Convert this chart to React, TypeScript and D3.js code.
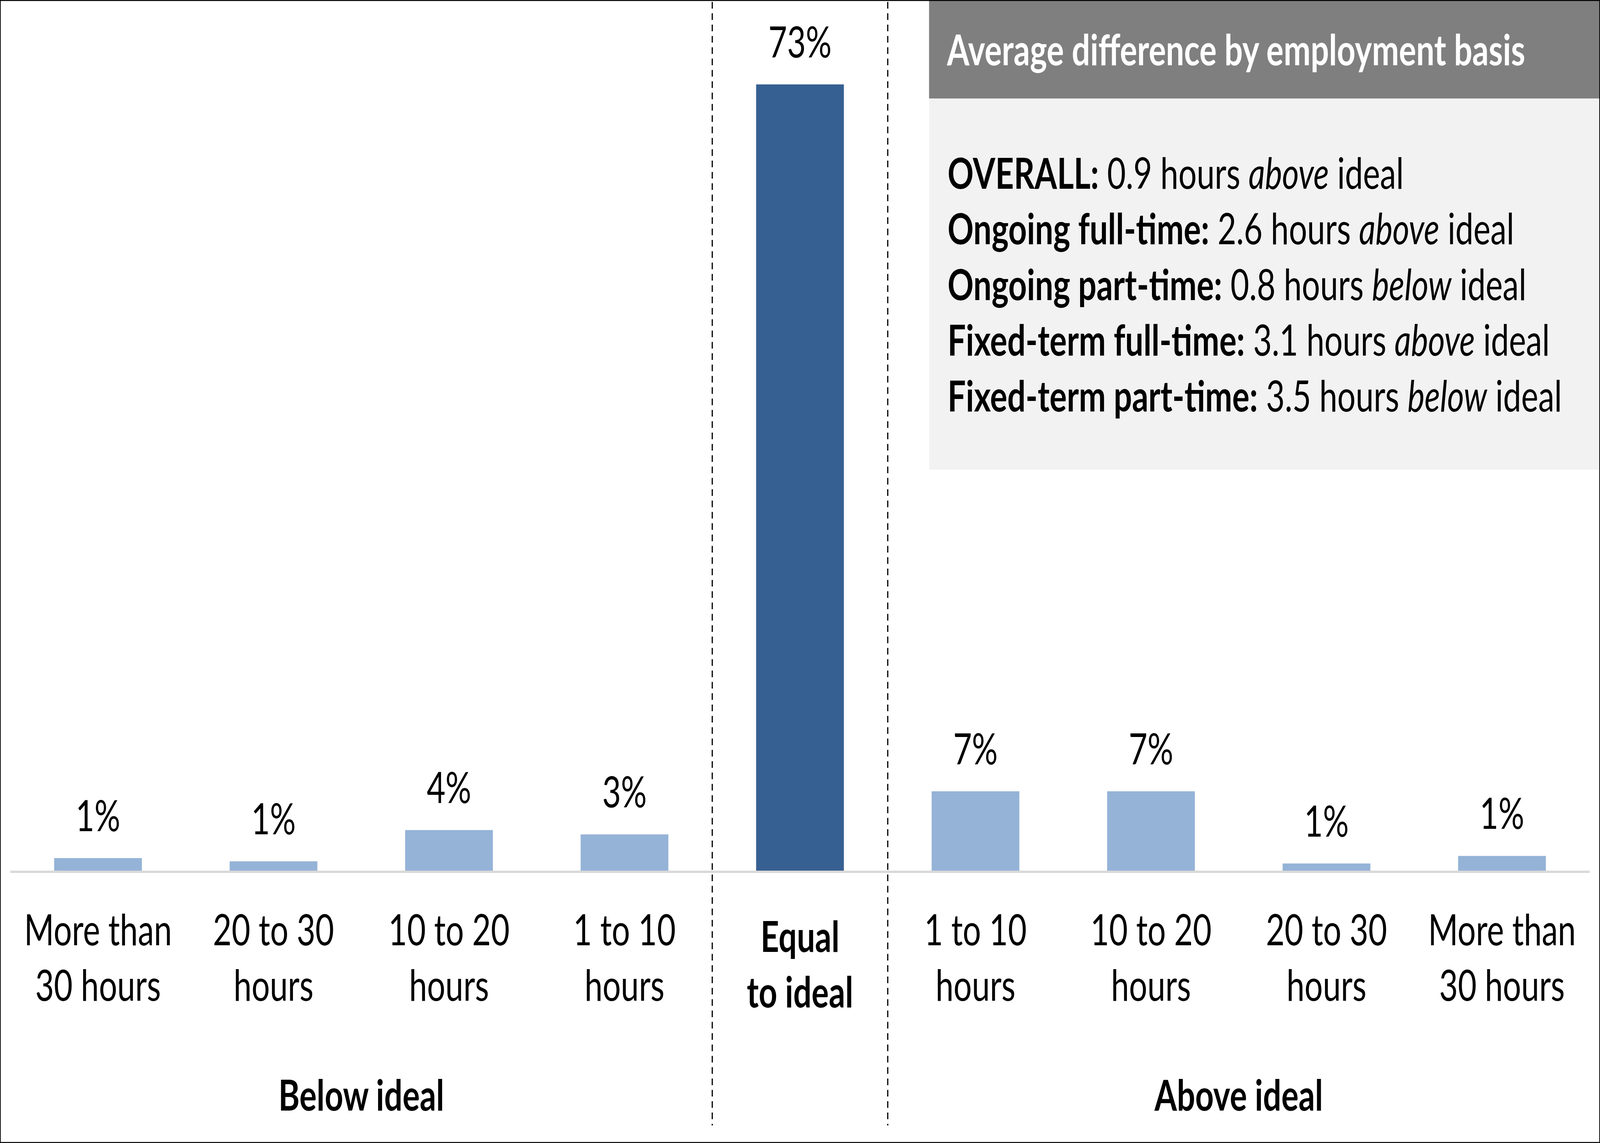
import { useEffect, useRef } from 'react'
import * as d3 from 'd3'

// categories, left to right (two text lines each)
const categoryLines: string[][] = [
  ['More than', '30 hours'],
  ['20 to 30', 'hours'],
  ['10 to 20', 'hours'],
  ['1 to 10', 'hours'],
  ['Equal', 'to ideal'],
  ['1 to 10', 'hours'],
  ['10 to 20', 'hours'],
  ['20 to 30', 'hours'],
  ['More than', '30 hours'],
]

// share of respondents (%) per category
const shares = [1.2, 0.9, 3.8, 3.4, 73, 7.4, 7.4, 0.7, 1.4]

// which bar is the "equal" one
const equalIndex = 4

const groupLabels = ['Below ideal', 'Above ideal']
const groupSpans: [number, number][] = [[0, 3], [5, 8]]

const yTicks = [0, 80]

const panelTitle = 'Average difference by employment basis'
const panelLabels = ['OVERALL:', 'Ongoing full-time:', 'Ongoing part-time:', 'Fixed-term full-time:', 'Fixed-term part-time:']
const panelHours = ['0.9', '2.6', '0.8', '3.1', '3.5']
const panelDirections = ['above', 'above', 'below', 'above', 'below']

const W = 5454
const H = 2925
const FONT = 'Lato, "Open Sans", sans-serif'
const FS = '110px'

export default function App() {
  const svgRef = useRef<SVGSVGElement>(null)

  useEffect(() => {
    if (!svgRef.current) return
    const svg = d3.select(svgRef.current)
    svg.selectAll('*').remove()

    const plot = { left: 35, right: 5419, top: 23, bottom: 2229 }

    const x = d3.scaleBand<number>()
      .domain(shares.map((_, i) => i))
      .range([plot.left, plot.right])
      .paddingInner(0.5)
      .paddingOuter(0.25)

    const y = d3.scaleLinear()
      .domain(d3.extent(yTicks) as [number, number])
      .range([plot.bottom, plot.top])

    const step = x.step()
    const bw = x.bandwidth()
    const gap = (step - bw) / 2

    svg.append('rect')
      .attr('x', 0).attr('y', 0)
      .attr('width', W).attr('height', H)
      .attr('fill', '#ffffff')

    // bars
    svg.selectAll('.bar')
      .data(shares)
      .enter().append('rect')
      .attr('class', 'bar')
      .attr('x', (_, i) => x(i)!)
      .attr('y', d => y(d))
      .attr('width', bw)
      .attr('height', d => y(0) - y(d))
      .attr('fill', (_, i) => (i === equalIndex ? '#376092' : '#95b3d7'))

    // baseline
    svg.append('line')
      .attr('x1', plot.left).attr('x2', plot.right)
      .attr('y1', y(0) + 2).attr('y2', y(0) + 2)
      .attr('stroke', '#d9d9d9')
      .attr('stroke-width', 6)

    // dashed separators around the "equal" column
    const sepX = [x(equalIndex)! - gap, x(equalIndex)! + bw + gap]
    svg.selectAll('.sep')
      .data(sepX)
      .enter().append('line')
      .attr('class', 'sep')
      .attr('x1', d => d).attr('x2', d => d)
      .attr('y1', 5).attr('y2', 2880)
      .attr('stroke', '#000')
      .attr('stroke-width', 4)
      .attr('stroke-dasharray', '17,12')

    // value labels
    svg.selectAll('.val')
      .data(shares)
      .enter().append('text')
      .attr('class', 'val')
      .attr('x', (_, i) => x(i)! + bw / 2)
      .attr('y', d => y(d) - 69)
      .attr('text-anchor', 'middle')
      .style('font-family', FONT)
      .style('font-size', FS)
      .style('fill', '#000')
      .text(d => `${Math.round(d)}%`)

    // category labels
    const cat = svg.selectAll('.cat')
      .data(categoryLines)
      .enter().append('text')
      .attr('class', 'cat')
      .attr('text-anchor', 'middle')
      .style('font-family', FONT)
      .style('font-size', FS)
      .style('font-weight', (_, i) => (i === equalIndex ? 700 : 400))
      .style('fill', '#000')

    cat.selectAll('tspan')
      .data((d, i) => d.map(line => ({ line, i })))
      .enter().append('tspan')
      .attr('x', d => x(d.i)! + bw / 2)
      .attr('y', (d, j) => 2419 + (d.i === equalIndex ? 17 : 0) + j * 142)
      .text(d => d.line)

    // group labels
    svg.selectAll('.grp')
      .data(groupLabels)
      .enter().append('text')
      .attr('class', 'grp')
      .attr('x', (_, i) => (x(groupSpans[i][0])! - gap + x(groupSpans[i][1])! + bw + gap) / 2)
      .attr('y', 2842)
      .attr('text-anchor', 'middle')
      .style('font-family', FONT)
      .style('font-size', FS)
      .style('font-weight', 700)
      .style('fill', '#000')
      .text(d => d)

    // info panel
    const panelX = 3167
    svg.append('rect')
      .attr('x', panelX).attr('y', 0)
      .attr('width', W - panelX).attr('height', 1202)
      .attr('fill', '#f2f2f2')
    svg.append('rect')
      .attr('x', panelX).attr('y', 0)
      .attr('width', W - panelX).attr('height', 252)
      .attr('fill', '#7f7f7f')

    svg.append('text')
      .attr('x', 3228).attr('y', 167)
      .style('font-family', FONT)
      .style('font-size', '110px')
      .style('font-weight', 700)
      .style('fill', '#ffffff')
      .text(panelTitle)

    const rows = svg.selectAll('.row')
      .data(panelLabels)
      .enter().append('text')
      .attr('class', 'row')
      .attr('x', 3230)
      .attr('y', (_, i) => 483 + i * 142.5)
      .style('font-family', FONT)
      .style('font-size', FS)
      .style('fill', '#000')

    rows.append('tspan').style('font-weight', 700).text(d => d)
    rows.append('tspan').text((_, i) => ` ${panelHours[i]} hours `)
    rows.append('tspan').style('font-style', 'italic').text((_, i) => panelDirections[i])
    rows.append('tspan').text(' ideal')

    // outer border
    svg.append('rect')
      .attr('x', 1).attr('y', 1)
      .attr('width', W - 2).attr('height', H - 2)
      .attr('fill', 'none')
      .attr('stroke', '#000')
      .attr('stroke-width', 3)
  }, [])

  return (
    <svg
      ref={svgRef}
      viewBox={`0 0 ${W} ${H}`}
      preserveAspectRatio="none"
      style={{ position: 'fixed', left: 0, top: 0, width: '100vw', height: '100vh', display: 'block' }}
    />
  )
}
